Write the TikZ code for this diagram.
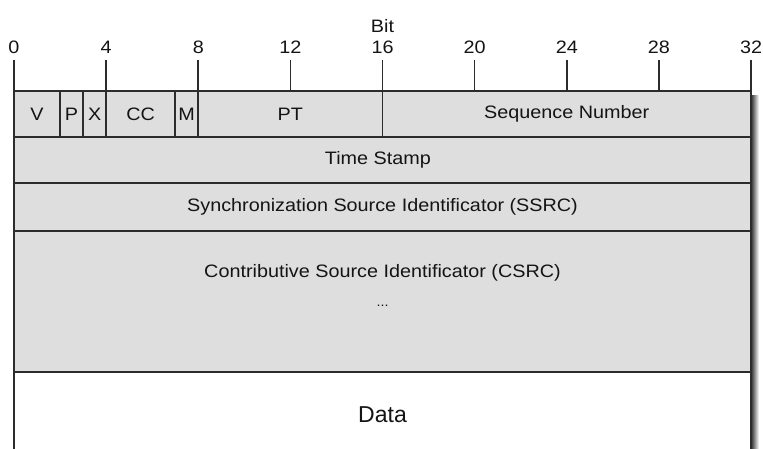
\documentclass[tikz,border=0pt]{standalone}
\usepackage{fontspec}
\setmainfont{Liberation Sans}[FakeStretch=1.1]
\newfontfamily\plainsans{Liberation Sans}
\definecolor{fieldgray}{HTML}{DEDEDE}
\definecolor{rulegray}{HTML}{2C2C2C}
\definecolor{inkgray}{HTML}{141414}
\tikzset{
  frame/.style={draw=rulegray, line width=1.6pt},
  fieldtext/.style={font=\fontsize{18}{20}\selectfont, text=inkgray, inner sep=0pt},
  bitnum/.style={font=\fontsize{18}{20}\selectfont, text=inkgray, inner sep=0pt},
  datatext/.style={font=\plainsans\fontsize{23}{25}\selectfont, text=inkgray, inner sep=0pt}
}
\begin{document}
\begin{tikzpicture}[x=23.03pt, y=-1pt, shift={(14pt,0pt)}]
  \useasboundingbox (-0.608,0) rectangle (32.52,448);
  \clip (-0.608,0) rectangle (32.52,448);

  % drop shadow on the right side
  \shade[left color=black!75, right color=white] (32.03,95) rectangle (32.34,460);

  % header rows and data area
  \fill[fieldgray] (0,91) rectangle (32,372);
  \fill[white] (0,372) rectangle (32,460);
  \draw[frame] (0,460) -- (0,91) -- (32,91) -- (32,460);
  \foreach \y in {137,183,231,372}
    \draw[frame] (0,\y) -- (32,\y);
  \foreach \b in {2,3,4,7,8,16}
    \draw[frame] (\b,91) -- (\b,137);

  % bit ruler
  \foreach \b in {0,4,...,32} {
    \draw[frame] (\b,60) -- (\b,91);
    \node[bitnum] (bit\b) at (\b,47) {\b};
  }
  \node[bitnum] (bitcaption) at (16,26) {Bit};

  % first word
  \node[fieldtext] (v) at (1,114) {V};
  \node[fieldtext] (p) at (2.5,114) {P};
  \node[fieldtext] (x) at (3.5,114) {X};
  \node[fieldtext] (cc) at (5.5,114) {CC};
  \node[fieldtext] (m) at (7.5,114) {M};
  \node[fieldtext] (pt) at (12,114) {PT};
  \node[fieldtext] (seq) at (24,114) {Sequence Number};

  % remaining words
  \node[fieldtext] (ts) at (15.8,160) {Time Stamp};
  \node[fieldtext] (ssrc) at (16,207) {Synchronization Source Identificator (SSRC)};
  \node[fieldtext] (csrc) at (16,273) {Contributive Source Identificator (CSRC)};
  \node[fieldtext, font=\fontsize{13}{15}\selectfont] (csrcdots) at (16,306) {...};
  \node[datatext] (data) at (16,415) {Data};
\end{tikzpicture}
\end{document}
